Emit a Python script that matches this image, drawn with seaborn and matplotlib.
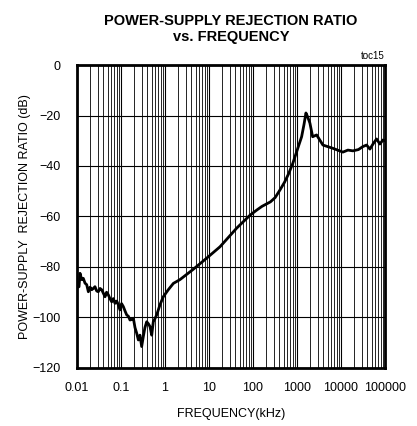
import numpy as np
import pandas as pd
import seaborn as sns
import matplotlib.pyplot as plt
from matplotlib.ticker import LogLocator, FixedLocator, NullFormatter

# PSRR curve (frequency in kHz, PSRR in dB)
freq_khz = [0.0105, 0.0111, 0.0117, 0.0128, 0.0139, 0.0152, 0.0166, 0.0181,
            0.0198, 0.0216, 0.0235, 0.0256, 0.0280, 0.0305, 0.0334, 0.0364,
            0.0400, 0.0433, 0.0470, 0.0514, 0.0560, 0.0615, 0.0670, 0.0731,
            0.0800, 0.0869, 0.0948, 0.103, 0.113, 0.124, 0.135, 0.147,
            0.160, 0.175, 0.191, 0.208, 0.228, 0.248, 0.270, 0.295,
            0.321, 0.350, 0.384, 0.420, 0.456, 0.499, 0.542, 0.590,
            0.647, 0.769, 0.914, 1.19, 1.55, 2.19, 4.33, 8.87,
            17.8, 42.7, 85.5, 121, 160, 205, 250, 320, 411, 520,
            650, 811, 1000, 1279, 1450, 1603, 1750, 1972, 2275, 2805, 3899, 6577,
            11092, 14420, 18750, 25000, 31623, 38370, 45600, 55000,
            64710, 76900, 90160, 100000]
psrr_db = [-88.0, -87.8, -82.5, -85.0, -84.5, -86.4, -87.0, -89.8,
           -88.0, -89.0, -88.5, -87.8, -89.5, -89.8, -88.5, -89.0,
           -90.5, -91.8, -90.0, -91.0, -92.5, -93.8, -92.5, -94.4,
           -93.5, -95.0, -97.0, -94.5, -95.7, -97.5, -99.0, -99.5,
           -101.0, -100.8, -100.3, -104.0, -106.3, -108.9, -107.0, -111.5,
           -107.6, -104.0, -101.7, -102.5, -103.6, -107.0, -101.7, -100.5,
           -99.0, -95.0, -91.8, -89.0, -86.5, -85.0, -81.0, -76.5,
           -72.0, -64.6, -59.5, -57.5, -56.0, -55.0, -54.2, -52.5, -49.5, -46.5,
           -43.0, -38.8, -34.0, -28.4, -23.5, -19.0, -20.5, -23.0, -28.4, -27.7, -31.7, -33.0,
           -34.5, -33.7, -34.0, -33.5, -32.3, -31.7, -33.3, -31.0,
           -29.3, -31.3, -29.7, -30.0]

y_ticks = [0, -20, -40, -60, -80, -100, -120]
x_ticks = [0.01, 0.1, 1, 10, 100, 1000, 10000, 100000]
x_tick_labels = ["0.01", "0.1", "1", "10", "100", "1000", "10000", "100000"]

df = pd.DataFrame({"freq": freq_khz, "psrr": psrr_db})

sns.set_style("white")
plt.rcParams["font.family"] = ["Liberation Sans", "DejaVu Sans"]
plt.rcParams["text.color"] = "black"
plt.rcParams["axes.labelcolor"] = "black"
plt.rcParams["xtick.color"] = "black"
plt.rcParams["ytick.color"] = "black"

fig = plt.figure(figsize=(4.17, 4.26), dpi=100)
ax = fig.add_axes([0.1847, 0.1362, 0.7383, 0.7112])

sns.lineplot(data=df, x="freq", y="psrr", color="black", linewidth=2, ax=ax, zorder=3)

ax.set_xscale("log")
ax.set_xlim(0.01, 100000)
ax.set_ylim(-120, 0)

ax.xaxis.set_major_locator(FixedLocator(x_ticks))
ax.set_xticklabels(x_tick_labels)
ax.xaxis.set_minor_locator(LogLocator(base=10, subs=np.arange(2, 10), numticks=20))
ax.xaxis.set_minor_formatter(NullFormatter())
ax.set_yticks(y_ticks)

ax.grid(which="major", axis="both", color="black", linewidth=0.8)
ax.grid(which="minor", axis="x", color="black", linewidth=0.6)
ax.tick_params(which="both", length=0, labelsize=9)
ax.tick_params(axis="x", pad=10)
ax.tick_params(axis="y", pad=12)

for sp in ax.spines.values():
    sp.set_linewidth(2)
    sp.set_color("black")

ax.set_xlabel("FREQUENCY(kHz)", fontsize=9, labelpad=10)
ax.set_ylabel("POWER-SUPPLY  REJECTION RATIO (dB)", fontsize=9, labelpad=1)

fig.text(0.554, 0.967, "POWER-SUPPLY REJECTION RATIO\nvs. FREQUENCY",
         ha="center", va="top", fontsize=10.5, fontweight="bold", linespacing=1.15)
fig.text(0.923, 0.857, "toc15", ha="right", va="bottom", fontsize=7)

fig.savefig("out.png", dpi=100)
